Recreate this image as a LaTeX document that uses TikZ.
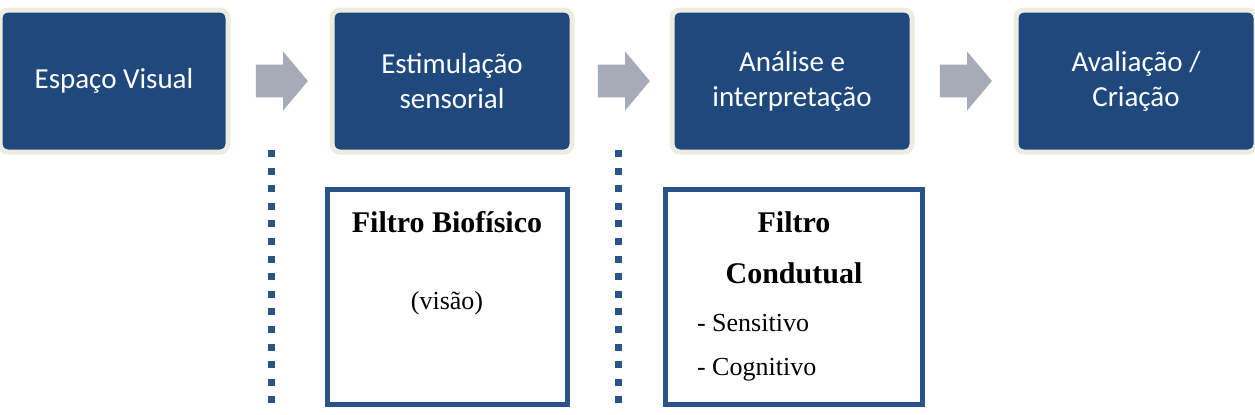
\documentclass[tikz,border=0pt]{standalone}
\usepackage{fontspec}
\setmainfont{Liberation Serif}
\newfontfamily\boxfont{Carlito}
\usetikzlibrary{shapes.arrows,calc}
\definecolor{darkblue}{HTML}{1F497D}
\definecolor{framecol}{HTML}{2A5389}
\definecolor{creamcol}{HTML}{EEECE1}
\definecolor{arrowgray}{HTML}{A6ABB8}
\tikzset{
  stage/.style={rectangle, rounded corners=4pt, fill=darkblue, draw=creamcol, line width=2.5pt,
    minimum width=120pt, minimum height=71pt, text=white, align=center,
    font=\boxfont\fontsize{14.5}{17.5}\selectfont},
  blockarrow/.style={single arrow, fill=arrowgray, draw=none, inner xsep=0pt, inner ysep=8pt,
    minimum height=26pt, single arrow head extend=6.5pt,
    single arrow tip angle=100, xshift=-2.5pt},
  filterbox/.style={rectangle, draw=framecol, line width=2.5pt, fill=white, inner sep=0pt},
  dotline/.style={draw=framecol, line width=3.5pt, dash pattern=on 3.5pt off 5.3pt},
  filtertitle/.style={font=\bfseries\fontsize{15}{18}\selectfont},
  filtertext/.style={font=\fontsize{13}{16}\selectfont}
}
\begin{document}
\begin{tikzpicture}[x=0.5pt, y=-0.5pt]
  \useasboundingbox (0,0) rectangle (1255,414);
  \node[stage, minimum width=114pt] at (114,81) (esp) {Espaço Visual};
  \node[stage] at (452,81) (est) {Estimulação\\sensorial};
  \node[stage] at (792,81) (ana) {Análise e\\interpretação};
  \node[stage] at (1136,81) (ava) {Avaliação /\\Criação};
  \node[blockarrow] at ($(esp.east)!0.5!(est.west)$) (a1) {};
  \node[blockarrow] at ($(est.east)!0.5!(ana.west)$) (a2) {};
  \node[blockarrow] at ($(ana.east)!0.5!(ava.west)$) (a3) {};
  \coordinate (d1top) at (271,150);
  \coordinate (d1bot) at (271,410);
  \coordinate (d2top) at (618,150);
  \coordinate (d2bot) at (618,410);
  \draw[dotline] (d1top) -- (d1bot);
  \draw[dotline] (d2top) -- (d2bot);
  \node[filterbox, minimum width=120pt, minimum height=107.5pt] at (447.5,297) (bio) {};
  \node[filterbox, minimum width=128.5pt, minimum height=107.5pt] at (794,297) (cond) {};
  \node[filtertitle] at (447,222) (biot) {Filtro Biofísico};
  \node[filtertext] at (447,303) (vis) {(visão)};
  \node[filtertitle] at (794,222) (condt1) {Filtro};
  \node[filtertitle] at (794,273) (condt2) {Condutual};
  \node[filtertext, anchor=west] at (690,323) (sen) {- Sensitivo};
  \node[filtertext, anchor=west] at (690,370) (cog) {- Cognitivo};
\end{tikzpicture}
\end{document}
